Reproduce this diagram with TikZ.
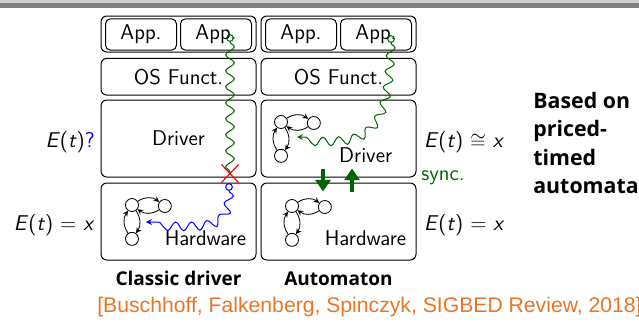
\documentclass[tikz,border=0pt]{standalone}
\usepackage{fontspec}
\usepackage{xcolor}
\usepackage{tikz}
\usetikzlibrary{positioning, arrows, arrows.meta, shapes.misc, decorations.pathmorphing}
\newfontfamily\headfont{Open Sans}
\newfontfamily\citefont{Liberation Sans}
\definecolor{darkgreen}{RGB}{0,100,0}
\definecolor{citeorange}{RGB}{232,118,38}
\definecolor{bargray}{RGB}{128,128,128}
\definecolor{barlight}{RGB}{208,208,208}
\newcommand{\lblfont}{\sffamily\fontsize{12.8}{15}\selectfont}
\tikzstyle{layer} = [rectangle, rounded corners=3.5pt, draw=black, line width=0.6pt, minimum width=93pt, font=\lblfont]
\tikzstyle{appframe} = [rectangle, rounded corners=3.5pt, draw=black, line width=0.6pt, minimum width=93pt, minimum height=21.6pt]
\tikzstyle{app} = [rectangle, rounded corners=3pt, draw=black, line width=0.6pt, minimum width=42.6pt, minimum height=18.8pt, font=\lblfont]
\tikzstyle{state} = [circle, draw=black, line width=0.5pt, minimum size=7.8pt, inner sep=0pt]
\tikzstyle{trans} = [line width=0.5pt, ->, >=stealth, bend left=35]
\tikzstyle{src} = [circle, draw, line width=0.6pt, minimum size=4pt, inner sep=0pt]
\tikzstyle{wave} = [line width=0.6pt, decorate, decoration={snake, amplitude=2.6pt, segment length=9.6pt, post length=3pt}]
\tikzstyle{syncarrow} = [line width=2.4pt, darkgreen, -{Triangle[length=7pt,width=9pt]}]
\tikzstyle{caption} = [font=\headfont\bfseries\fontsize{11.4}{13}\selectfont]
\newcommand{\automat}[2]{%
    \node (#2a) [state] at (#1) {};
    \node (#2b) [state, right=11.4pt of #2a, yshift=-0.6pt] {};
    \node (#2c) [state, below=12pt of #2a] {};
    \draw [trans] (#2a) to (#2b);
    \draw [trans] (#2b) to (#2a);
    \draw [trans] (#2c) to (#2a);
    \draw [trans] (#2a) to (#2c);
}

\begin{document}
\begin{tikzpicture}[x=0.6pt, y=-0.6pt]
    \useasboundingbox (0,0) rectangle (639,323);
    \fill [barlight] (0,0) rectangle (639,3);
    \fill [bargray] (0,3) rectangle (639,7.5);
    % classic driver
    \node (appL) [appframe] at (178.5,34) {};
    \node (appL1) [app] at (141,34.5) {App.};
    \node (appL2) [app] at (216,34.5) {App.};
    \node (osL) [layer, minimum height=22pt] at (178.5,76.7) {OS Funct.};
    \node (drvL) [layer, minimum height=46.2pt] at (178.5,138.5) {Driver};
    \node (hwL) [layer, minimum height=46.2pt] at (178.5,221.5) {};
    \node (hwLtxt) [anchor=base east, inner sep=0pt, font=\lblfont] at ([xshift=-6pt, yshift=9pt]hwL.south east) {Hardware};
    \automat{132,205}{hA}
    % automaton
    \node (appR) [appframe] at (338.5,34) {};
    \node (appR1) [app] at (301,34.5) {App.};
    \node (appR2) [app] at (376,34.5) {App.};
    \node (osR) [layer, minimum height=22pt] at (338.5,76.7) {OS Funct.};
    \node (drvR) [layer, minimum height=46.2pt] at (338.5,138.5) {};
    \node (drvRtxt) [anchor=base east, inner sep=0pt, font=\lblfont] at ([xshift=-14.4pt, yshift=9pt]drvR.south east) {Driver};
    \node (hwR) [layer, minimum height=46.2pt] at (338.5,221.5) {};
    \node (hwRtxt) [anchor=base east, inner sep=0pt, font=\lblfont] at ([xshift=-6pt, yshift=9pt]hwR.south east) {Hardware};
    \automat{281,122}{dA}
    \automat{292,206}{hB}
    % energy labels
    \node (eDrvL) [left=0pt of drvL, yshift=-2.2pt, font=\lblfont] {\textit{E}(\textit{t})\textcolor{blue}{?}};
    \node (eHwL) [left=0pt of hwL, yshift=-2.2pt, font=\lblfont] {\textit{E}(\textit{t})~=~\textit{x}};
    \node (eDrvR) [right=1pt of drvR, yshift=-2.2pt, font=\lblfont] {\textit{E}(\textit{t})~$\cong$~\textit{x}};
    \node (eHwR) [right=1pt of hwR, yshift=-2.2pt, font=\lblfont] {\textit{E}(\textit{t})~=~\textit{x}};
    \node (sync) [anchor=base west, inner sep=0pt, font=\lblfont, text=darkgreen] at (421,180) {sync.};
    % calls
    \node (srcL) [src, darkgreen] at (230,38) {};
    \node (block) [cross out, draw=red, line width=0.7pt, minimum width=9.6pt, minimum height=10.2pt, inner sep=0pt] at (230,173.5) {};
    \draw [wave, darkgreen, decoration={post length=0pt}] (srcL) -- (block.center);
    \node (srcH) [src, blue] at (229,187) {};
    \coordinate (hwIn) at (146,222);
    \draw [wave, blue, ->, >=stealth] (srcH) .. controls (229,228) and (205,222) .. (hwIn);
    \node (srcR) [src, darkgreen] at (391,39) {};
    \coordinate (drvIn) at (297,137);
    \draw [wave, darkgreen, ->, >=stealth] (srcR) .. controls (388,145) and (360,138) .. (drvIn);
    \draw [syncarrow] ([xshift=-9.3pt, yshift=5.4pt]drvR.south) -- ([xshift=-9.3pt, yshift=-5.4pt]hwR.north);
    \draw [syncarrow] ([xshift=8.1pt, yshift=-5.4pt]hwR.north) -- ([xshift=8.1pt, yshift=5.4pt]drvR.south);
    % captions
    \node (capL) [caption, below=3pt of hwL] {Classic driver};
    \node (capR) [caption, below=3pt of hwR] {Automaton};
    \node (based) [anchor=north west, align=left, inner sep=0pt, font=\headfont\bfseries\fontsize{12.8}{17.1}\selectfont] at (533,91.5) {Based on\\priced-\\timed\\automata};
    \node (cite) [anchor=base west, inner sep=0pt, text=citeorange, font=\citefont\fontsize{12.7}{15}\selectfont] at (97,312.7) {[Buschhoff, Falkenberg, Spinczyk, SIGBED Review, 2018]};
\end{tikzpicture}
\end{document}
